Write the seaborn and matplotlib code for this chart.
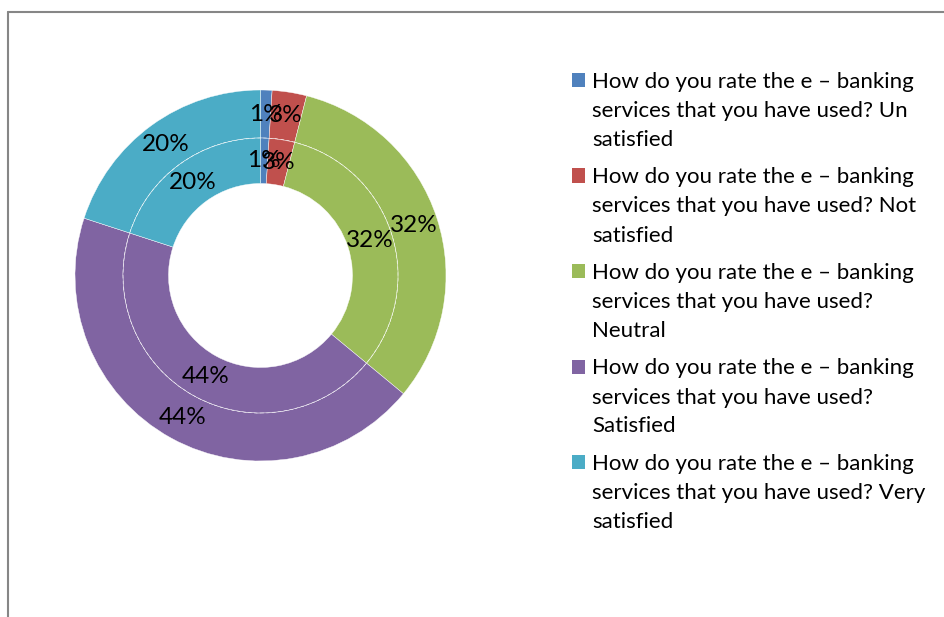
import matplotlib
matplotlib.use("Agg")
import matplotlib.pyplot as plt
from matplotlib.lines import Line2D
from matplotlib.patches import Rectangle, Circle
import numpy as np
import seaborn as sns

# Survey responses: "How do you rate the e – banking services that you have used?"
categories = ["Un satisfied", "Not satisfied", "Neutral", "Satisfied", "Very satisfied"]
shares = [1, 3, 32, 44, 20]          # percent, same values on both rings
pct_labels = ["1%", "3%", "32%", "44%", "20%"]
question = "How do you rate the e – banking services that you have used?"
legend_lines = [
    ["How do you rate the e – banking", "services that you have used? Un", "satisfied"],
    ["How do you rate the e – banking", "services that you have used? Not", "satisfied"],
    ["How do you rate the e – banking", "services that you have used?", "Neutral"],
    ["How do you rate the e – banking", "services that you have used?", "Satisfied"],
    ["How do you rate the e – banking", "services that you have used? Very", "satisfied"],
]
colors = ["#4F81BD", "#C0504D", "#9BBB59", "#8064A2", "#4BACC6"]

sns.set_theme(style="white")
palette = sns.color_palette(colors)
plt.rcParams["font.family"] = ["Lato", "DejaVu Sans"]

W, H = 944, 617
fig = plt.figure(figsize=(W / 100, H / 100), dpi=100)
fig.patch.set_facecolor("white")


def fx(px):
    return px / W


def fy(py):
    return 1 - py / H


# Doughnut axes: centre (260.5, 275.5) px, outer radius 185.5 px
cx, cy, R = 260.5, 275.5, 185.5
ax = fig.add_axes([fx(cx - R), fy(cy + R), 2 * R / W, 2 * R / H])
ax.set_aspect("equal")
ax.axis("off")

r_outer = 1.0
r_mid = 137.5 / R
r_hole = 92.0 / R

wedge_kw = dict(edgecolor="white", linewidth=0.3)
ax.pie(shares, radius=r_outer, colors=palette, startangle=90, counterclock=False,
       wedgeprops=dict(width=r_outer - r_mid, **wedge_kw))
ax.pie(shares, radius=r_mid, colors=palette, startangle=90, counterclock=False,
       wedgeprops=dict(width=r_mid - r_hole, **wedge_kw))
ax.set_xlim(-1, 1)
ax.set_ylim(-1, 1)

# faint dashed seam between the two rings
ax.add_patch(Circle((0, 0), r_mid, fill=False, edgecolor="white", lw=0.6,
                    ls=(0, (4, 3)), alpha=0.5))

# percentage labels at the middle of each ring segment
total = float(sum(shares))
start = 90.0
for val, lab in zip(shares, pct_labels):
    mid = np.deg2rad(start - 360 * val / total / 2)
    start -= 360 * val / total
    for rr in ((r_outer + r_mid) / 2, (r_mid + r_hole) / 2):
        ax.text(rr * np.cos(mid), rr * np.sin(mid), lab, ha="center", va="center",
                fontsize=17.5, color="black")

# legend, drawn in pixel layout
line_h = 29.0
entry_step = 95.5
for i, (lines, col) in enumerate(zip(legend_lines, palette)):
    base = 88 + i * entry_step
    fig.add_artist(Rectangle((fx(572), fy(87 + i * entry_step)), 13 / W, 14 / H,
                             transform=fig.transFigure, facecolor=col, edgecolor="none"))
    for j, txt in enumerate(lines):
        fig.text(fx(592), fy(base + j * line_h), txt, ha="left", va="baseline",
                 fontsize=16, color="black")

# chart-area border (top and left edges)
border = "#868686"
fig.add_artist(Line2D([fx(7.5), fx(7.5)], [fy(11.5), 0], transform=fig.transFigure,
                      color=border, lw=1.5))
fig.add_artist(Line2D([fx(7.5), 1], [fy(11.5), fy(11.5)], transform=fig.transFigure,
                      color=border, lw=1.5))

fig.savefig("out.png", dpi=100, facecolor="white")
